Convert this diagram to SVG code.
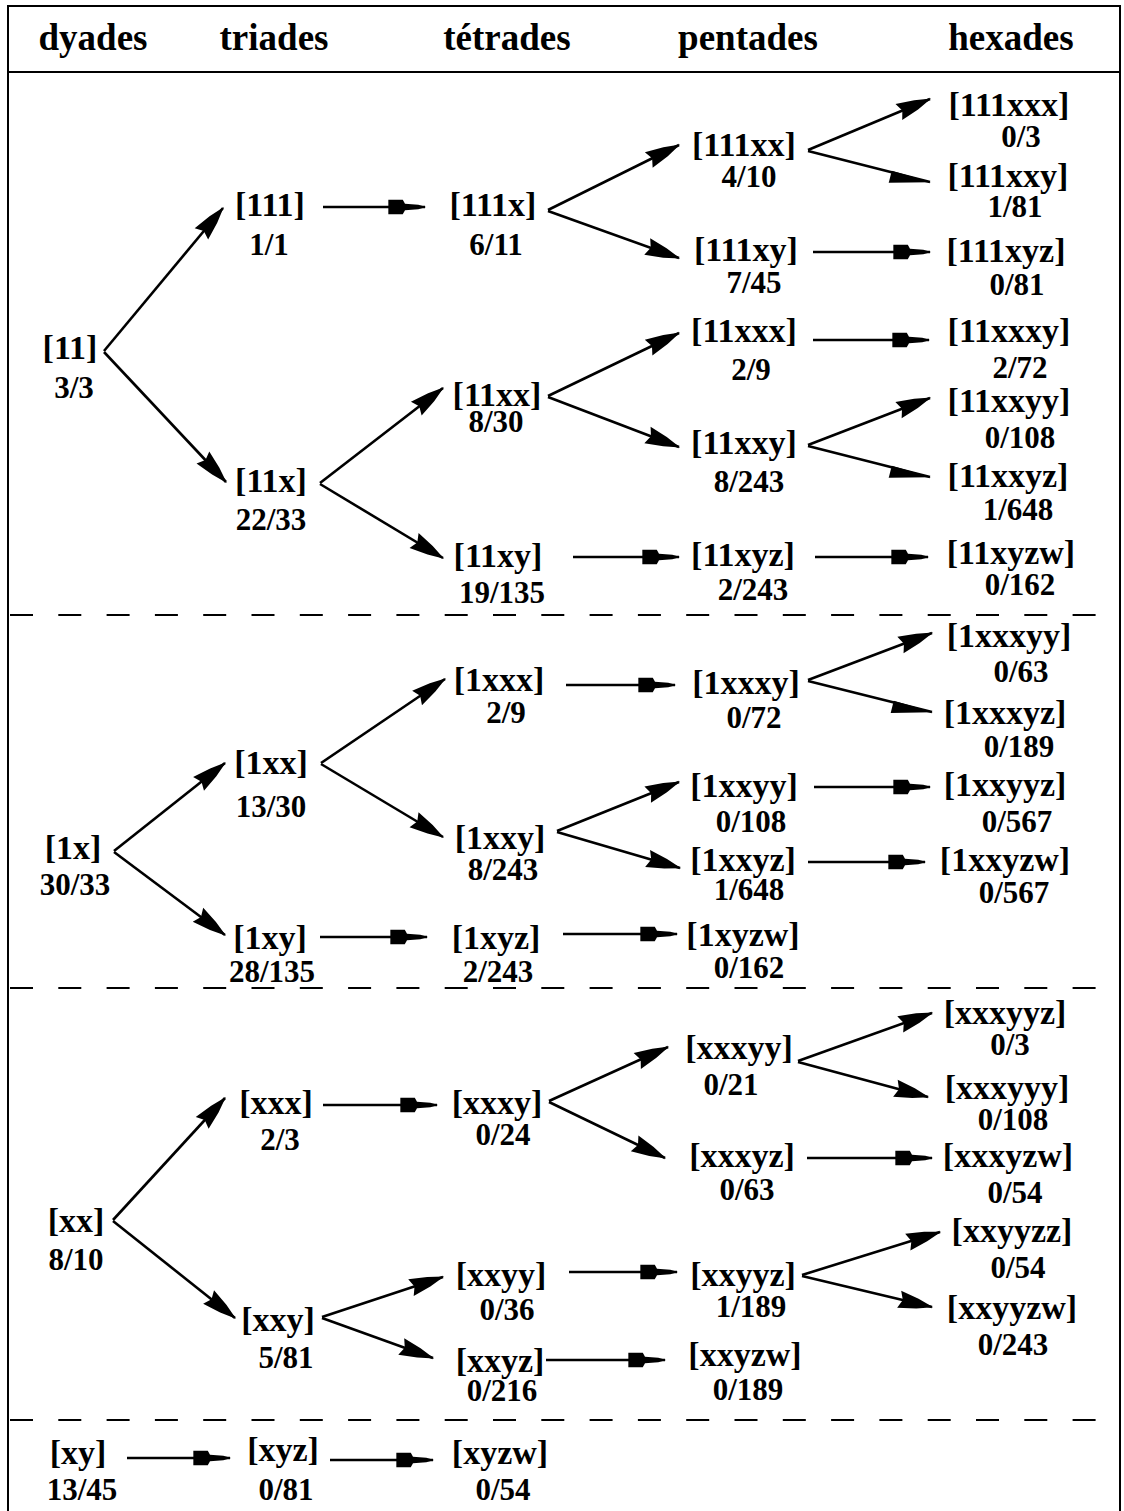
<svg xmlns="http://www.w3.org/2000/svg" width="1124" height="1511" viewBox="0 0 1124 1511">
<style>
text{font-family:"Liberation Serif","Times New Roman",serif;font-weight:bold;fill:#000;text-anchor:middle}
.h{font-size:37px}
.l{font-size:34px}
.f{font-size:31px}
.frame{fill:none;stroke:#000;stroke-width:2}
.dash{stroke:#000;stroke-width:2;stroke-dasharray:23 25.3}
#connectors line{stroke:#000;stroke-width:2.6}
.a{marker-end:url(#pen)}
.d{marker-end:url(#barb)}
.t{marker-end:url(#tri)}
</style>
<defs>
<marker id="pen" markerUnits="userSpaceOnUse" orient="auto" refX="0" refY="0" markerWidth="40" markerHeight="20" viewBox="-34 -8 36 16" overflow="visible">
<path d="M1,0 L-6,-2 L-18,-3 L-20,-6.5 L-33,-6.5 L-33,6.5 L-20,6.5 L-18,3 L-6,2 Z" fill="#000"/>
</marker>
<marker id="barb" markerUnits="userSpaceOnUse" orient="auto" refX="0" refY="0" markerWidth="40" markerHeight="20" viewBox="-30 -8 32 16" overflow="visible">
<path d="M1,0 L-12,-4 L-27,-7 L-24,0 L-27,7 L-12,4 Z" fill="#000"/>
</marker>
<marker id="tri" markerUnits="userSpaceOnUse" orient="auto" refX="0" refY="0" markerWidth="44" markerHeight="24" viewBox="-40 -4 42 16" overflow="visible">
<path d="M1,0 L-38,-1.5 L-38,10.5 Z" fill="#000"/>
</marker>
</defs>

<g id="frame">
<rect class="frame" x="8" y="6" width="1112" height="1520"/>
<line x1="8" y1="72" x2="1120" y2="72" stroke="#000" stroke-width="2"/>
<line class="dash" x1="10" y1="615" x2="1096" y2="615"/>
<line class="dash" x1="10" y1="988" x2="1096" y2="988"/>
<line class="dash" x1="10" y1="1420" x2="1096" y2="1420"/>
</g>

<g id="header">
<text class="h" x="93" y="50">dyades</text>
<text class="h" x="274" y="50">triades</text>
<text class="h" x="507" y="50">tétrades</text>
<text class="h" x="748" y="50">pentades</text>
<text class="h" x="1011" y="50">hexades</text>
</g>

<g id="connectors">
<line class="d" x1="104" y1="351" x2="223" y2="208"/>
<line class="d" x1="104" y1="352" x2="226" y2="482"/>
<line class="a" x1="323" y1="207" x2="425" y2="207"/>
<line class="d" x1="320" y1="483" x2="443" y2="388"/>
<line class="d" x1="320" y1="484" x2="443" y2="558"/>
<line class="d" x1="548" y1="210" x2="679" y2="145"/>
<line class="d" x1="548" y1="211" x2="679" y2="258"/>
<line class="d" x1="548" y1="396" x2="679" y2="333"/>
<line class="d" x1="548" y1="397" x2="679" y2="447"/>
<line class="a" x1="573" y1="557" x2="679" y2="557"/>
<line class="d" x1="808" y1="150" x2="930" y2="99"/>
<line class="t" x1="808" y1="151" x2="930" y2="182"/>
<line class="a" x1="813" y1="252" x2="930" y2="252"/>
<line class="a" x1="813" y1="340" x2="929" y2="340"/>
<line class="d" x1="808" y1="445" x2="930" y2="398"/>
<line class="t" x1="808" y1="446" x2="930" y2="477"/>
<line class="a" x1="815" y1="557" x2="928" y2="557"/>

<line class="d" x1="114" y1="851" x2="225" y2="763"/>
<line class="d" x1="114" y1="852" x2="225" y2="935"/>
<line class="d" x1="321" y1="763" x2="445" y2="679"/>
<line class="d" x1="321" y1="764" x2="443" y2="837"/>
<line class="a" x1="566" y1="685" x2="675" y2="685"/>
<line class="d" x1="808" y1="680" x2="932" y2="633"/>
<line class="t" x1="808" y1="681" x2="932" y2="712"/>
<line class="d" x1="557" y1="831" x2="679" y2="782"/>
<line class="d" x1="557" y1="832" x2="680" y2="868"/>
<line class="a" x1="814" y1="787" x2="930" y2="787"/>
<line class="a" x1="808" y1="862" x2="925" y2="862"/>
<line class="a" x1="320" y1="937" x2="427" y2="937"/>
<line class="a" x1="563" y1="934" x2="677" y2="934"/>

<line class="d" x1="113" y1="1220" x2="225" y2="1098"/>
<line class="d" x1="113" y1="1221" x2="235" y2="1318"/>
<line class="a" x1="323" y1="1105" x2="437" y2="1105"/>
<line class="d" x1="322" y1="1317" x2="443" y2="1277"/>
<line class="d" x1="322" y1="1318" x2="433" y2="1358"/>
<line class="d" x1="549" y1="1101" x2="668" y2="1047"/>
<line class="d" x1="549" y1="1102" x2="665" y2="1158"/>
<line class="d" x1="798" y1="1061" x2="932" y2="1013"/>
<line class="d" x1="798" y1="1062" x2="928" y2="1097"/>
<line class="a" x1="807" y1="1158" x2="932" y2="1158"/>
<line class="a" x1="569" y1="1272" x2="677" y2="1272"/>
<line class="d" x1="802" y1="1275" x2="940" y2="1232"/>
<line class="d" x1="802" y1="1276" x2="932" y2="1307"/>
<line class="a" x1="546" y1="1360" x2="665" y2="1360"/>

<line class="a" x1="127" y1="1458" x2="230" y2="1458"/>
<line class="a" x1="330" y1="1460" x2="433" y2="1460"/>
</g>

<g id="n-11"><text class="l" x="70" y="359">[11]</text><text class="f" x="74" y="398">3/3</text></g>
<g id="n-111"><text class="l" x="270" y="216">[111]</text><text class="f" x="269" y="255">1/1</text></g>
<g id="n-11x"><text class="l" x="271" y="492">[11x]</text><text class="f" x="271" y="530">22/33</text></g>
<g id="n-111x"><text class="l" x="493" y="216">[111x]</text><text class="f" x="496" y="255">6/11</text></g>
<g id="n-11xx"><text class="l" x="497" y="406">[11xx]</text><text class="f" x="496" y="432">8/30</text></g>
<g id="n-11xy"><text class="l" x="498" y="567">[11xy]</text><text class="f" x="502" y="603">19/135</text></g>
<g id="n-111xx"><text class="l" x="744" y="156">[111xx]</text><text class="f" x="749" y="187">4/10</text></g>
<g id="n-111xy"><text class="l" x="746" y="261">[111xy]</text><text class="f" x="754" y="293">7/45</text></g>
<g id="n-11xxx"><text class="l" x="744" y="342">[11xxx]</text><text class="f" x="751" y="380">2/9</text></g>
<g id="n-11xxy"><text class="l" x="744" y="454">[11xxy]</text><text class="f" x="749" y="492">8/243</text></g>
<g id="n-11xyz"><text class="l" x="743" y="566">[11xyz]</text><text class="f" x="753" y="600">2/243</text></g>
<g id="n-111xxx"><text class="l" x="1009" y="116">[111xxx]</text><text class="f" x="1021" y="147">0/3</text></g>
<g id="n-111xxy"><text class="l" x="1008" y="187">[111xxy]</text><text class="f" x="1015" y="217">1/81</text></g>
<g id="n-111xyz"><text class="l" x="1006" y="262">[111xyz]</text><text class="f" x="1017" y="295">0/81</text></g>
<g id="n-11xxxy"><text class="l" x="1009" y="342">[11xxxy]</text><text class="f" x="1020" y="378">2/72</text></g>
<g id="n-11xxyy"><text class="l" x="1009" y="412">[11xxyy]</text><text class="f" x="1020" y="448">0/108</text></g>
<g id="n-11xxyz"><text class="l" x="1008" y="487">[11xxyz]</text><text class="f" x="1018" y="520">1/648</text></g>
<g id="n-11xyzw"><text class="l" x="1011" y="564">[11xyzw]</text><text class="f" x="1020" y="595">0/162</text></g>

<g id="n-1x"><text class="l" x="73" y="859">[1x]</text><text class="f" x="75" y="895">30/33</text></g>
<g id="n-1xx"><text class="l" x="271" y="774">[1xx]</text><text class="f" x="271" y="817">13/30</text></g>
<g id="n-1xy"><text class="l" x="270" y="949">[1xy]</text><text class="f" x="272" y="982">28/135</text></g>
<g id="n-1xxx"><text class="l" x="499" y="691">[1xxx]</text><text class="f" x="506" y="723">2/9</text></g>
<g id="n-1xxy"><text class="l" x="500" y="849">[1xxy]</text><text class="f" x="503" y="880">8/243</text></g>
<g id="n-1xyz"><text class="l" x="496" y="949">[1xyz]</text><text class="f" x="498" y="982">2/243</text></g>
<g id="n-1xxxy"><text class="l" x="746" y="694">[1xxxy]</text><text class="f" x="754" y="728">0/72</text></g>
<g id="n-1xxyy"><text class="l" x="744" y="797">[1xxyy]</text><text class="f" x="751" y="832">0/108</text></g>
<g id="n-1xxyz"><text class="l" x="743" y="871">[1xxyz]</text><text class="f" x="749" y="900">1/648</text></g>
<g id="n-1xyzw"><text class="l" x="743" y="946">[1xyzw]</text><text class="f" x="749" y="978">0/162</text></g>
<g id="n-1xxxyy"><text class="l" x="1009" y="647">[1xxxyy]</text><text class="f" x="1021" y="682">0/63</text></g>
<g id="n-1xxxyz"><text class="l" x="1005" y="724">[1xxxyz]</text><text class="f" x="1019" y="757">0/189</text></g>
<g id="n-1xxyyz"><text class="l" x="1005" y="796">[1xxyyz]</text><text class="f" x="1017" y="832">0/567</text></g>
<g id="n-1xxyzw"><text class="l" x="1005" y="871">[1xxyzw]</text><text class="f" x="1014" y="903">0/567</text></g>

<g id="n-xx"><text class="l" x="76" y="1232">[xx]</text><text class="f" x="76" y="1270">8/10</text></g>
<g id="n-xxx"><text class="l" x="276" y="1114">[xxx]</text><text class="f" x="280" y="1150">2/3</text></g>
<g id="n-xxy"><text class="l" x="278" y="1331">[xxy]</text><text class="f" x="286" y="1368">5/81</text></g>
<g id="n-xxxy"><text class="l" x="497" y="1114">[xxxy]</text><text class="f" x="503" y="1145">0/24</text></g>
<g id="n-xxyy"><text class="l" x="501" y="1286">[xxyy]</text><text class="f" x="507" y="1320">0/36</text></g>
<g id="n-xxyz"><text class="l" x="500" y="1372">[xxyz]</text><text class="f" x="502" y="1401">0/216</text></g>
<g id="n-xxxyy"><text class="l" x="739" y="1059">[xxxyy]</text><text class="f" x="731" y="1095">0/21</text></g>
<g id="n-xxxyz"><text class="l" x="742" y="1167">[xxxyz]</text><text class="f" x="747" y="1200">0/63</text></g>
<g id="n-xxyyz"><text class="l" x="743" y="1286">[xxyyz]</text><text class="f" x="751" y="1317">1/189</text></g>
<g id="n-xxyzw"><text class="l" x="745" y="1366">[xxyzw]</text><text class="f" x="748" y="1400">0/189</text></g>
<g id="n-xxxyyz"><text class="l" x="1005" y="1024">[xxxyyz]</text><text class="f" x="1010" y="1055">0/3</text></g>
<g id="n-xxxyyy"><text class="l" x="1007" y="1099">[xxxyyy]</text><text class="f" x="1013" y="1130">0/108</text></g>
<g id="n-xxxyzw"><text class="l" x="1008" y="1167">[xxxyzw]</text><text class="f" x="1015" y="1203">0/54</text></g>
<g id="n-xxyyzz"><text class="l" x="1012" y="1242">[xxyyzz]</text><text class="f" x="1018" y="1278">0/54</text></g>
<g id="n-xxyyzw"><text class="l" x="1012" y="1319">[xxyyzw]</text><text class="f" x="1013" y="1355">0/243</text></g>

<g id="n-xy"><text class="l" x="78" y="1464">[xy]</text><text class="f" x="82" y="1500">13/45</text></g>
<g id="n-xyz"><text class="l" x="283" y="1461">[xyz]</text><text class="f" x="286" y="1500">0/81</text></g>
<g id="n-xyzw"><text class="l" x="500" y="1464">[xyzw]</text><text class="f" x="503" y="1500">0/54</text></g>
</svg>
